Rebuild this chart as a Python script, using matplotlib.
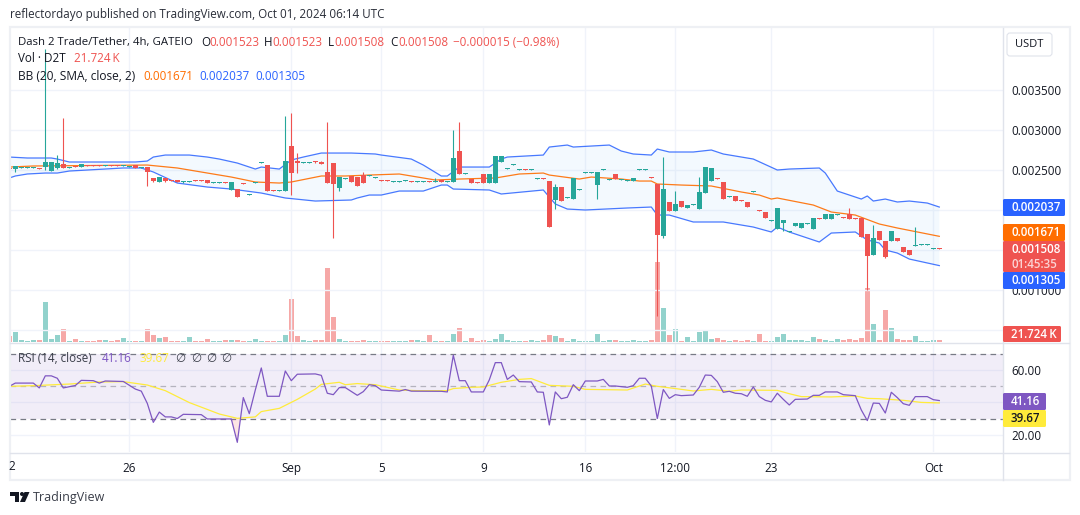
import numpy as np
import matplotlib
matplotlib.use("Agg")
import matplotlib.pyplot as plt
from matplotlib.patches import FancyBboxPatch, Rectangle, Polygon, Circle

# prices below are in units of 0.000001 USDT, volume in K
opens = [2525,2512,2525,2525,2525,2525,2537,2487,2525,2575,
         2525,2550,2537,2562,2562,2562,2550,2562,2562,2550,
         2538,2562,2525,2537,2400,2350,2400,2375,2375,2350,
         2350,2375,2375,2375,2338,2338,2350,2250,2262,2337,
         2187,2338,2588,2562,2250,2238,2237,2800,2612,2588,
         2588,2612,2600,2475,2587,2275,2388,2425,2412,2437,
         2425,2400,2375,2375,2350,2350,2363,2362,2350,2350,
         2362,2350,2375,2350,2350,2737,2450,2387,2350,2450,
         2337,2337,2600,2513,2563,2500,2512,2500,2388,2400,
         2362,2125,2287,2150,2137,2250,2463,2463,2312,2500,
         2375,2450,2375,2363,2362,2500,2500,2412,2325,1675,
         2100,1987,2112,2025,2063,2012,2212,2362,2400,2350,
         2163,2175,2125,2100,2225,2000,1975,1863,1762,1837,
         1725,1800,1775,1825,1762,1900,1887,1887,1938,1912,
         1950,1900,1900,1700,1437,1737,1612,1612,1650,1537,
         1500,1550,1563,1563,1513,1523]
highs = [2525,2550,2537,2537,2537,2525,4012,2600,2687,3150,
         2537,2550,2575,2562,2562,2562,2562,2562,2562,2562,
         2550,2562,2537,2537,2400,2412,2400,2375,2375,2362,
         2362,2375,2375,2375,2350,2350,2350,2350,2262,2337,
         2200,2350,2600,2562,2250,2250,3175,3212,2712,2600,
         2600,2612,2612,3100,2587,2412,2400,2425,2412,2475,
         2437,2412,2375,2375,2362,2362,2375,2362,2362,2362,
         2362,2400,2375,2362,3000,3100,2462,2387,2350,2450,
         2450,2675,2675,2525,2575,2512,2512,2512,2400,2400,
         2362,2325,2287,2162,2400,2262,2475,2475,2475,2512,
         2387,2450,2387,2375,2400,2512,2512,2412,2325,2662,
         2100,2237,2112,2062,2075,2412,2537,2525,2400,2350,
         2175,2175,2125,2100,2237,2000,1975,1875,2025,1875,
         1737,1837,1837,1837,1900,1900,1950,1950,1950,1912,
         2025,1900,1900,1700,1812,1737,1612,1737,1650,1537,
         1500,1787,1575,1575,1525,1523]
lows = [2513,2475,2525,2525,2525,2513,2500,2487,2512,2525,
        2525,2538,2537,2550,2550,2550,2550,2550,2550,2550,
        2538,2525,2525,2300,2350,2350,2350,2363,2350,2337,
        2350,2363,2363,2337,2338,2338,2338,2250,2162,2325,
        2187,2338,2588,2237,2238,2238,2237,2187,2462,2588,
        2588,2587,2575,2337,1650,2237,2388,2350,2300,2337,
        2425,2400,2363,2363,2350,2350,2363,2350,2350,2350,
        2350,2350,2350,2350,2350,2450,2450,2337,2338,2337,
        2337,2337,2600,2513,2563,2500,2500,2500,2388,2388,
        1787,2012,2112,2150,2137,2250,2463,2463,2137,2500,
        2375,2387,2375,2363,2362,2500,2500,2400,675,1650,
        1987,1987,2037,2025,2063,2012,2212,2362,2388,2137,
        2163,2112,2113,2037,2225,1988,1900,1863,1762,1737,
        1725,1800,1775,1825,1762,1888,1887,1887,1938,1900,
        1887,1888,1662,1000,1437,1625,1400,1612,1612,1475,
        1437,1550,1563,1563,1513,1508]
closes = [2513,2550,2537,2537,2537,2513,2600,2600,2587,2525,
          2537,2538,2575,2550,2550,2550,2562,2550,2550,2562,
          2550,2525,2537,2475,2362,2412,2362,2363,2350,2362,
          2362,2363,2363,2337,2350,2350,2338,2350,2162,2325,
          2200,2350,2600,2237,2238,2250,2612,2462,2587,2600,
          2600,2600,2575,2337,2325,2412,2400,2350,2300,2337,
          2437,2412,2363,2363,2362,2362,2375,2350,2362,2362,
          2350,2362,2350,2362,2650,2450,2462,2337,2338,2337,
          2450,2675,2675,2525,2575,2512,2500,2512,2400,2388,
          1787,2287,2112,2162,2400,2262,2475,2475,2475,2512,
          2387,2387,2387,2375,2400,2512,2512,2400,1687,2262,
          1987,2075,2037,2062,2075,2225,2537,2525,2388,2137,
          2175,2112,2113,2037,2237,1988,1900,1875,2025,1875,
          1737,1837,1837,1837,1900,1888,1950,1950,1950,1900,
          1887,1888,1662,1425,1650,1625,1412,1737,1612,1475,
          1437,1562,1575,1575,1525,1508]
volume = [68,109,25,14,25,25,434,36,79,141,
          14,36,14,14,14,25,25,14,25,47,
          14,14,14,141,79,47,58,14,14,14,
          58,14,14,36,14,14,25,25,25,14,
          14,36,14,14,14,14,79,467,68,25,
          14,25,25,804,272,36,14,14,14,25,
          14,14,14,14,14,14,14,25,25,14,
          79,14,14,14,90,155,14,47,14,25,
          14,36,90,25,14,14,14,25,14,25,
          79,68,47,14,36,14,14,14,90,14,
          25,25,14,14,25,14,14,25,869,369,
          79,141,14,58,14,112,123,36,47,25,
          14,25,14,25,14,90,14,14,58,90,
          25,25,25,14,58,36,25,14,36,25,
          36,25,47,586,199,25,348,155,36,25,
          25,68,14,14,22,21.724]

# Bollinger bands, read at the bars where the lines bend
upper_bars = [0,3,7,8,10,15,21,23,24,26,30,33,35,38,41,42,45,47,49,52,57,61,62,67,69,72,73,75,80,82,83,89,90,93,94,100,102,104,107,108,110,114,117,119,124,128,130,135,136,138,142,143,144,146,148,150,153,155]
upper_vals = [2662,2650,2650,2637,2600,2600,2600,2612,2662,2687,2687,2662,2637,2587,2512,2537,2512,2625,2662,2712,2712,2700,2687,2637,2562,2425,2425,2537,2537,2637,2662,2687,2787,2812,2787,2812,2737,2700,2687,2762,2725,2725,2750,2700,2637,2500,2512,2525,2462,2237,2137,2175,2112,2137,2100,2112,2087,2037]
basis_bars = [0,4,23,28,37,41,45,47,52,56,60,65,71,75,81,85,89,90,95,97,102,105,107,108,112,117,122,125,127,128,134,137,141,145,148,155]
basis_vals = [2537,2550,2562,2525,2412,2350,2337,2350,2425,2425,2437,2450,2375,2387,2400,2450,2462,2437,2387,2412,2387,2362,2362,2325,2312,2300,2225,2187,2137,2150,2062,1975,1937,1825,1775,1671]
lower_bars = [0,1,3,6,8,10,19,22,24,28,33,37,42,46,51,57,58,60,62,65,69,72,73,74,80,82,89,91,93,96,103,107,108,110,114,119,124,127,128,130,135,137,141,143,145,146,148,150,155]
lower_vals = [2400,2425,2450,2462,2462,2487,2525,2525,2475,2337,2287,2262,2212,2150,2112,2125,2150,2187,2187,2237,2237,2312,2312,2262,2250,2200,2250,2075,2012,2000,2025,2037,1937,1937,1850,1850,1787,1725,1787,1725,1600,1712,1725,1625,1587,1500,1462,1387,1305]

rsi_bars = [0,1,4,5,6,7,8,9,11,12,14,15,16,19,21,22,23,24,25,26,27,28,29,32,33,37,38,39,40,41,42,43,45,46,47,48,51,52,53,54,55,56,58,59,60,61,62,65,66,67,72,73,74,75,76,77,79,80,81,82,83,84,85,87,88,89,90,91,92,93,94,95,96,98,99,100,101,103,104,105,106,107,108,109,110,111,112,114,115,116,117,118,119,120,121,122,123,124,125,126,127,128,129,130,131,133,134,135,136,138,139,141,142,143,144,145,146,147,148,149,150,151,153,154,155]
rsi_vals = [50,52,52,49,56.5,56.5,55,49,50.5,53.7,53.5,52,53.3,53,48.3,47,39.4,27.6,34,31,31,30,32.6,32.4,29.7,29.7,15.2,43,33,47.7,61.4,43.8,43.8,59.5,53.5,57.5,57.7,56.8,45.7,44.8,49.2,49.2,44.4,46.7,51,50.4,47.7,47,48,47,46.9,46.5,69.3,53.5,53.5,46.5,46.5,54,64.7,64.7,54.3,57,52.9,52.7,46.5,46.3,26,46.5,42.3,43.2,51,47.3,53.3,53.3,54.3,50.2,50.2,49.4,50.4,55,55,50.2,30,48,42.5,44.8,44.2,44.6,49.4,57,56.8,52.9,46.3,46.9,45.7,45.4,43.8,49.6,43.6,41.3,40.3,45.7,41.9,38.4,41.9,42.1,44.4,44.4,46.5,46.5,44.8,44.2,35.3,28.7,39.6,39.4,33.4,46.3,43,39.2,38.2,43.6,43.6,41.7,41.16]
rsi_ma_bars = [0,4,10,15,19,23,26,30,35,38,41,42,45,48,51,52,55,56,58,61,65,68,73,74,77,79,82,85,87,90,94,96,103,106,108,111,114,117,120,122,128,130,132,137,141,143,145,149,152,155]
rsi_ma_vals = [50,50.4,51.4,52.7,52.9,50.8,47.3,39.9,32.8,30.1,31,34.3,36.3,41.9,48.3,51.2,52.5,51,51.7,51,47.7,47.3,47.3,48.6,49.4,49.6,52.5,54.3,54.8,50.6,50,48.1,47.7,51.4,50,48.6,47.1,48.1,46.9,47.7,47.5,45.4,43.6,43.4,44,42.5,42.3,41.3,40,39.67]

date_bars = [20,47,62,79,96,111,127,154]
date_labels = ["26","Sep","5","9","16","12:00","23","Oct"]
price_ticks = [3500,3000,2500,2000,1500,1000,500]
price_labels = ["0.003500","0.003000","0.002500","","","0.001000","0.000500"]  # two sit fully under the tags
rsi_ticks = [60,40,20]
rsi_labels = ["60.00","","20.00"]

UP = "#26a69a"
DOWN = "#ef5350"
BLUE = "#2962ff"
ORANGE = "#ff6d00"
PURPLE = "#7e57c2"
YELLOW = "#ffeb3b"
INK = "#131722"
GRID = "#f0f3fa"
LINE = "#e0e3eb"
W, H = 1080, 515


def pane(top, bottom):
    # axes rectangle from pixel rows, plot area ends at x=1003
    return [10 / W, (H - bottom) / H, 993 / W, (bottom - top) / H]


def bar_lim():
    # bar i is centred on pixel 9.3 + 6 * i
    return (10 - 9.3) / 6, (1003 - 9.3) / 6


plt.rcParams["font.family"] = ["Open Sans", "DejaVu Sans"]
plt.rcParams["font.size"] = 8.4

fig = plt.figure(figsize=(W / 100, H / 100), dpi=100, facecolor="white")

o = np.array(opens) / 1e6
h = np.array(highs) / 1e6
l = np.array(lows) / 1e6
c = np.array(closes) / 1e6
x = np.arange(len(o))
colors = [UP if cl >= op else DOWN for op, cl in zip(o, c)]

ax = fig.add_axes(pane(28, 342))
ax.set_xlim(*bar_lim())
ax.set_ylim(0.000350, 0.004275)

# volume sits behind the candles on its own scale
ax_vol = ax.twinx()
ax_vol.set_ylim(0, 3410)
ax_vol.bar(x, volume, width=0.84, color=colors, alpha=0.5, linewidth=0)
ax_vol.set_yticks([])
ax_vol.set_zorder(1)
ax.set_zorder(2)
ax.patch.set_visible(False)
for spine in list(ax.spines.values()) + list(ax_vol.spines.values()):
    spine.set_visible(False)

ub, uv = np.array(upper_bars), np.array(upper_vals) / 1e6
mb, mv = np.array(basis_bars), np.array(basis_vals) / 1e6
lb, lv = np.array(lower_bars), np.array(lower_vals) / 1e6
ax.fill(np.r_[ub, lb[::-1]], np.r_[uv, lv[::-1]], color="#2196f3", alpha=0.05, lw=0, zorder=1)
ax.plot(ub, uv, color=BLUE, lw=0.9, alpha=0.85, zorder=2)
ax.plot(lb, lv, color=BLUE, lw=0.9, alpha=0.85, zorder=2)
ax.plot(mb, mv, color=ORANGE, lw=0.9, alpha=0.9, zorder=2)

ax.vlines(x, l, h, colors=colors, lw=0.8, zorder=3)
ax.bar(x, np.abs(c - o), bottom=np.minimum(o, c), width=0.84, color=colors, linewidth=0, zorder=4)

ax.set_xticks(date_bars)
ax.set_xticklabels([])
ax.yaxis.tick_right()
ax.set_yticks(np.array(price_ticks) / 1e6)
ax.set_yticklabels(price_labels, color=INK)
ax.tick_params(axis="both", length=0, pad=5.8)
ax.grid(True, color=GRID, lw=1.0, zorder=0)
ax.set_axisbelow(True)

# RSI pane
ax_rsi = fig.add_axes(pane(343, 452))
ax_rsi.set_xlim(*bar_lim())
ax_rsi.set_ylim(9.2, 76.9)
ax_rsi.axhspan(30, 70, color=PURPLE, alpha=0.1, lw=0, zorder=1)
ax_rsi.axhline(70, color="#787b86", lw=0.9, dashes=(4.5, 3.5), zorder=2)
ax_rsi.axhline(30, color="#787b86", lw=0.9, dashes=(4.5, 3.5), zorder=2)
ax_rsi.axhline(50, color="#787b86", lw=0.9, alpha=0.5, dashes=(4.5, 3.5), zorder=2)
rb, rv = np.array(rsi_bars), np.array(rsi_vals)
ax_rsi.fill_between(rb, rv, 30, where=rv < 30, interpolate=True, color=DOWN, alpha=0.15, lw=0, zorder=2)
ax_rsi.plot(rsi_ma_bars, rsi_ma_vals, color=YELLOW, lw=0.9, zorder=3)
ax_rsi.plot(rb, rv, color=PURPLE, lw=0.9, zorder=4)
ax_rsi.set_xticks(date_bars)
ax_rsi.set_xticklabels(date_labels, color=INK)
ax_rsi.yaxis.tick_right()
ax_rsi.set_yticks(rsi_ticks)
ax_rsi.set_yticklabels(rsi_labels, color=INK)
ax_rsi.tick_params(axis="y", length=0, pad=5.8)
ax_rsi.tick_params(axis="x", length=0, pad=7)
ax_rsi.grid(True, color=GRID, lw=1.0, zorder=0)
ax_rsi.set_axisbelow(True)
for spine in ax_rsi.spines.values():
    spine.set_visible(False)

# everything drawn in picture pixels: frame, legends, price tags, footer
top = fig.add_axes([0, 0, 1, 1], zorder=10)
top.set_xlim(0, W)
top.set_ylim(H, 0)
top.axis("off")

top.add_patch(Rectangle((9.5, 27), 1060, 453, fc="none", ec="#eef0f4", lw=1.6))
top.plot([10, 1069], [342.5, 342.5], color=LINE, lw=1)
top.plot([10, 1069], [452.5, 452.5], color=LINE, lw=1)
top.plot([1003, 1003], [28, 480], color=LINE, lw=1)
top.text(12, 466, "2", ha="center", va="center", color=INK)


def say(px, py, text, color=INK, **kw):
    top.text(px, py, text, color=color, va="center", ha="left", **kw)


say(10, 14.5, "reflectordayo published on TradingView.com, Oct 01, 2024 06:14 UTC", color="#2a2e39", fontsize=8.4)

say(18, 42, "Dash 2 Trade/Tether, 4h, GATEIO", fontsize=8.2)
for px, s, col in [(201, "O", INK), (209, "0.001523", DOWN), (264, "H", INK), (272, "0.001523", DOWN),
                   (328, "L", INK), (334, "0.001508", DOWN), (390, "C", INK), (398, "0.001508", DOWN),
                   (453, "\u22120.000015 (\u22120.98%)", DOWN)]:
    say(px, 42, s, color=col)
say(18, 59, "Vol \u00b7 D2T")
say(74, 59, "21.724\u2009K", color=DOWN)
say(18, 76, "BB (20, SMA, close, 2)", fontsize=8.6)
say(143, 76, "0.001671", color=ORANGE)
say(199, 76, "0.002037", color=BLUE)
say(255, 76, "0.001305", color=BLUE)

say(18, 358, "RSI (14, close)", color="#3a3e49")
say(102, 358, "41.16", color=PURPLE)
say(139, 358, "39.67", color=YELLOW)
for px in [175, 191, 206, 221]:
    say(px, 358, "\u2205", color="#3a3e49")


def tag(y0, y1, right, color):
    top.add_patch(FancyBboxPatch((1003, y0), right - 1003, y1 - y0, fc=color, ec="none",
                                 boxstyle="round,pad=0,rounding_size=1.5", zorder=5))


def tag_text(py, text, color="white"):
    top.text(1011, py, text, color=color, va="center", ha="left", fontweight="semibold", fontsize=8.3, zorder=6)


tag(199, 216, 1065, BLUE)
tag_text(207.5, "0.002037")
tag(224, 241, 1065, ORANGE)
tag_text(232.5, "0.001671")
tag(241, 272, 1065, DOWN)
tag_text(249.5, "0.001508")
tag_text(264, "01:45:35", color="#fbd5d5")
tag(272, 289, 1065, BLUE)
tag_text(281, "0.001305")
tag(326, 342, 1061, DOWN)
tag_text(334, "21.724\u2009K")
tag(393, 410, 1046, PURPLE)
tag_text(401.5, "41.16")
tag(410, 427, 1046, YELLOW)
tag_text(418.5, "39.67", color=INK)

top.add_patch(FancyBboxPatch((1007, 33), 45, 23, fc="white", ec=LINE, lw=0.8,
                             boxstyle="round,pad=0,rounding_size=3"))
top.text(1029.5, 44.5, "USDT", color=INK, ha="center", va="center", fontsize=8)

# TradingView mark
top.add_patch(Polygon([(10, 492), (19, 492), (19, 502), (14.5, 502), (14.5, 496), (10, 496)], fc=INK, ec="none"))
top.add_patch(Circle((22, 494), 2, fc=INK, ec="none"))
top.add_patch(Polygon([(24.5, 492), (29.5, 492), (25, 502), (20, 502)], fc=INK, ec="none"))
say(33, 497, "TradingView", color="#3a3e49", fontsize=9)

fig.savefig("out.png", dpi=100)
